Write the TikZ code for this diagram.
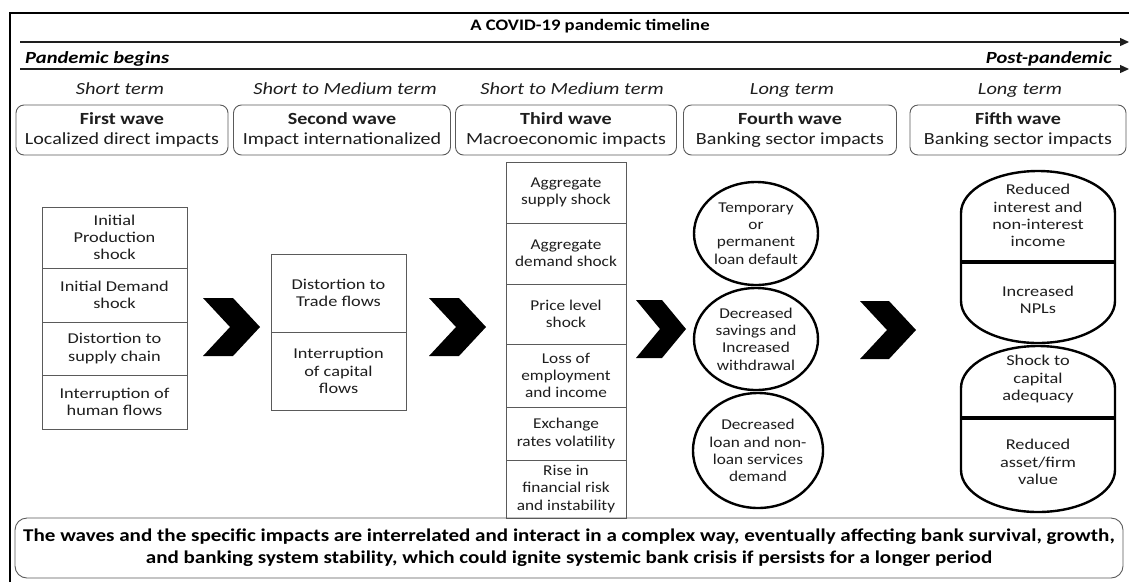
\documentclass[tikz,border=0pt]{standalone}
\usepackage{fontspec}
\setmainfont{Carlito}
\usetikzlibrary{arrows.meta,shapes.geometric}
\definecolor{bord}{HTML}{5A5A5A}
\definecolor{ink}{HTML}{1E1E1E}
\begin{document}
\begin{tikzpicture}[x=1pt,y=-1pt,
  cell/.style={draw=bord,line width=0.9pt,inner sep=0pt,outer sep=0pt},
  wavebox/.style={draw=bord,line width=0.9pt,rounded corners=8pt,inner sep=0pt,minimum height=50pt},
  tA/.style={align=center,text=ink,inner sep=0pt,font=\fontsize{15}{17.3}\selectfont,xscale=1.22},
  tB/.style={align=center,text=ink,inner sep=0pt,font=\fontsize{15}{17.3}\selectfont,xscale=1.15},
  wtxt/.style={align=center,text=ink,inner sep=0pt,font=\fontsize{17}{20}\selectfont,xscale=1.18},
  term/.style={text=ink,inner sep=0pt,font=\fontsize{17}{20}\selectfont\itshape,xscale=1.2},
  head/.style={text=black,inner sep=0pt,font=\fontsize{17}{20}\selectfont\bfseries\itshape,xscale=1.21},
  oval/.style={ellipse,draw=black,line width=2.4pt,inner sep=0pt},
  chev/.style={fill=black},
  tl/.style={draw=ink,line width=1.3pt,-{Triangle[length=9pt,width=8pt]}},
  thick3/.style={draw=black,line width=3.2pt},
  caps/.style={draw=black,line width=2.4pt}
]
\useasboundingbox (0,0) rectangle (1129,582);
\fill[white] (0,0) rectangle (1129,582);
% frame
\coordinate (fbl) at (10,582);
\coordinate (ftl) at (10,13);
\coordinate (ftr) at (1129,13);
\draw[line width=1.4pt] (fbl) -- (ftl) -- (ftr);
% title and timeline
\node[inner sep=0pt,font=\fontsize{16}{18}\selectfont\bfseries,xscale=1.17] (title) at (590,26) {A COVID-19 pandemic timeline};
\coordinate (a1s) at (20,42); \coordinate (a1e) at (1129,42);
\coordinate (a2s) at (20,69); \coordinate (a2e) at (1129,69);
\draw[tl] (a1s) -- (a1e);
\draw[tl] (a2s) -- (a2e);
\node[head,anchor=base west] (pb) at (25,63) {Pandemic begins};
\node[head,anchor=base east] (pp) at (1112,63) {Post-pandemic};
% terms
\node[term,anchor=base] (t1) at (120,94) {Short term};
\node[term,anchor=base] (t2) at (345,94) {Short to Medium term};
\node[term,anchor=base] (t3) at (572,94) {Short to Medium term};
\node[term,anchor=base] (t4) at (792,94) {Long term};
\node[term,anchor=base] (t5) at (1020,94) {Long term};
% wave boxes
\node[wavebox,minimum width=212pt] (w1) at (122,130) {};
\node[wavebox,minimum width=217pt] (w2) at (342,130) {};
\node[wavebox,minimum width=221pt] (w3) at (566,130) {};
\node[wavebox,minimum width=213pt] (w4) at (790,130) {};
\node[wavebox,minimum width=216pt] (w5) at (1018,130) {};
\node[wtxt] (w1t) at (w1) {\textbf{First wave}\\Localized direct impacts};
\node[wtxt] (w2t) at (w2) {\textbf{Second wave}\\Impact internationalized};
\node[wtxt] (w3t) at (w3) {\textbf{Third wave}\\Macroeconomic impacts};
\node[wtxt] (w4t) at (w4) {\textbf{Fourth wave}\\Banking sector\ impacts};
\node[wtxt] (w5t) at (w5) {\textbf{Fifth wave}\\Banking sector impacts};
% column 1
\node[cell,minimum width=145pt,minimum height=61pt] (c1a) at (114.5,237.5) {};
\node[cell,minimum width=145pt,minimum height=54pt] (c1b) at (114.5,295) {};
\node[cell,minimum width=145pt,minimum height=53pt] (c1c) at (114.5,348.5) {};
\node[cell,minimum width=145pt,minimum height=54pt] (c1d) at (114.5,402) {};
\node[tA] (c1at) at (c1a) {Initial\\Production\\shock};
\node[tA] (c1bt) at (c1b) {Initial Demand\\shock};
\node[tA] (c1ct) at (c1c) {Distortion to\\supply chain};
\node[tA] (c1dt) at (c1d) {Interruption of\\human flows};
% column 2
\node[cell,minimum width=135pt,minimum height=78pt] (b2a) at (338.5,293) {};
\node[cell,minimum width=135pt,minimum height=78pt] (b2b) at (338.5,371) {};
\node[tA] (b2at) at (b2a) {Distortion to\\Trade flows};
\node[tA] (b2bt) at (b2b) {Interruption\\of capital\\flows};
% column 3
\node[cell,minimum width=120pt,minimum height=61pt] (c3a) at (566,192.5) {};
\node[cell,minimum width=120pt,minimum height=61pt] (c3b) at (566,253.5) {};
\node[cell,minimum width=120pt,minimum height=60pt] (c3c) at (566,314) {};
\node[cell,minimum width=120pt,minimum height=63pt] (c3d) at (566,375.5) {};
\node[cell,minimum width=120pt,minimum height=53pt] (c3e) at (566,433.5) {};
\node[cell,minimum width=120pt,minimum height=58pt] (c3f) at (566,489) {};
\node[tB] (c3at) at (c3a) {Aggregate\\supply shock};
\node[tB] (c3bt) at (c3b) {Aggregate\\demand shock};
\node[tB] (c3ct) at (c3c) {Price level\\shock};
\node[tB] (c3dt) at (c3d) {Loss of\\employment\\and income};
\node[tB] (c3et) at (c3e) {Exchange\\rates volatility};
\node[tB] (c3ft) at (c3f) {Rise in\\financial risk\\and instability};
% ellipses
\node[oval,minimum width=124pt,minimum height=103pt] (e1) at (756,233.5) {};
\node[oval,minimum width=124pt,minimum height=102pt] (e2) at (756,339) {};
\node[oval,minimum width=130pt,minimum height=115pt] (e3) at (758,450.5) {};
\node[tB] (e1t) at (e1) {Temporary\\or\\permanent\\loan default};
\node[tB] (e2t) at (e2) {Decreased\\savings and\\Increased\\withdrawal};
\node[tB] (e3t) at (e3) {Decreased\\loan and non-\\loan services\\demand};
% capsules of the fifth wave
\draw[caps] (961,213) arc[start angle=180,end angle=360,x radius=77,y radius=42]
  -- (1115,301) arc[start angle=0,end angle=180,x radius=77,y radius=42] -- cycle;
\draw[caps] (961,388) arc[start angle=180,end angle=360,x radius=77,y radius=42]
  -- (1115,470) arc[start angle=0,end angle=180,x radius=77,y radius=42] -- cycle;
\coordinate (d1l) at (961,262); \coordinate (d1r) at (1115,262);
\coordinate (d2l) at (961,418); \coordinate (d2r) at (1115,418);
\draw[thick3] (d1l) -- (d1r);
\draw[thick3] (d2l) -- (d2r);
\node[tA] (s1) at (1038,215.5) {Reduced\\interest and\\non-interest\\income};
\node[tA] (s2) at (1038,300) {Increased\\NPLs};
\node[tA] (s3) at (1038,379) {Shock to\\capital\\adequacy};
\node[tA] (s4) at (1038,462) {Reduced\\asset/firm\\value};
% chevrons
\fill[chev] (203,298) -- (233,298) -- (260,327) -- (233,356) -- (203,356) -- (230,327) -- cycle;
\fill[chev] (429,298) -- (459,298) -- (486,327) -- (459,356) -- (429,356) -- (456,327) -- cycle;
\fill[chev] (636,300) -- (662,300) -- (686,329) -- (662,358) -- (636,358) -- (660,329) -- cycle;
\fill[chev] (860,301) -- (889,301) -- (916,330) -- (889,359) -- (860,359) -- (887,330) -- cycle;
% bottom box
\node[draw=bord,line width=0.9pt,rounded corners=12pt,minimum width=1108pt,minimum height=60pt,inner sep=0pt] (bot) at (569,548) {};
\node[align=center,text=black,inner sep=0pt,font=\fontsize{18}{22}\selectfont\bfseries,xscale=1.17] (bott) at (bot)
 {The waves and the specific impacts are interrelated and interact in a complex way, eventually affecting bank survival, growth,\\and banking system stability, which could ignite systemic bank crisis if persists for a longer period};
\end{tikzpicture}
\end{document}
